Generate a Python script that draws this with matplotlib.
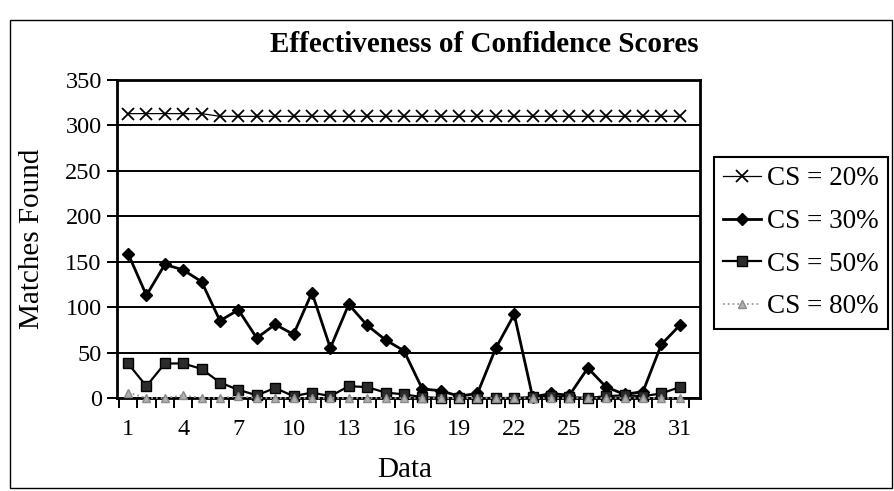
import matplotlib
matplotlib.use("Agg")
import matplotlib.pyplot as plt
from matplotlib.patches import Rectangle

plt.rcParams['font.family'] = ['Liberation Serif', 'DejaVu Serif']

# Data set index on the category axis
data_idx = list(range(1, 32))
x_tick_labels = [1, 4, 7, 10, 13, 16, 19, 22, 25, 28, 31]
y_ticks = [0, 50, 100, 150, 200, 250, 300, 350]

# Matches found for each confidence-score threshold
cs20 = [313, 313, 313, 313, 313, 310, 310, 310, 310, 310,
        310, 310, 310, 310, 310, 310, 310, 310, 310, 310,
        310, 310, 310, 310, 310, 310, 310, 310, 310, 310, 310]
cs30 = [159, 113, 147, 141, 128, 85, 97, 66, 81, 70,
        116, 55, 103, 80, 64, 52, 10, 8, 2, 5,
        55, 92, 1, 5, 3, 33, 12, 4, 7, 59, 80]
cs50 = [38, 13, 38, 38, 32, 17, 9, 3, 11, 2,
        6, 2, 13, 12, 6, 4, 1, 0, 0, 0,
        0, 0, 1, 2, 1, 0, 2, 3, 2, 5, 12]
cs80 = [6, 0, 0, 3, 0, 0, 2, 0, 0, 0,
        0, 0, 0, 0, 0, 0, 0, 0, 0, 0,
        0, 0, 0, 0, 0, 0, 0, 0, 0, 0, 0]
series_names = ["CS = 20%", "CS = 30%", "CS = 50%", "CS = 80%"]

W, H = 895, 491
fig = plt.figure(figsize=(W / 100, H / 100), dpi=100)
fig.patch.set_facecolor('white')

# outer chart frame
fig.add_artist(Rectangle((10 / W, 1 - 488 / H), (892 - 10) / W, (488 - 20) / H,
                         transform=fig.transFigure, fill=False, ec='black', lw=1.0))

ax = fig.add_axes([117 / W, 1 - 398 / H, (700 - 117) / W, (398 - 80) / H])

ax.plot(data_idx, cs20, color='black', lw=0.9, marker='x', ms=8, mew=1.3,
        label=series_names[0], clip_on=False, zorder=4)
ax.plot(data_idx, cs30, color='black', lw=2.0, marker='D', ms=6.5,
        label=series_names[1], clip_on=False, zorder=5)
ax.plot(data_idx, cs50, color='black', lw=1.6, marker='s', ms=6.5, mfc='#2b2b2b',
        mec='black', label=series_names[2], clip_on=False, zorder=5)
ax.plot(data_idx, cs80, color='#9a9a9a', lw=1.3, ls=':', marker='^', ms=6,
        mfc='#b0b0b0', mec='#8a8a8a', label=series_names[3], clip_on=False, zorder=6)

ax.set_ylim(0, 350)
ax.set_xlim(0.4, 32.1)
ax.set_yticks(y_ticks)
ax.set_xticks(x_tick_labels)
ax.set_xticks([i + 0.5 for i in range(0, 32)], minor=True)
ax.yaxis.grid(True, color='black', lw=1.4, zorder=1)
ax.set_axisbelow(True)

for s in ax.spines.values():
    s.set_linewidth(2.0)
    s.set_color('black')

ax.tick_params(axis='y', direction='out', length=7, width=1.4, labelsize=17.5, pad=4)
ax.tick_params(axis='x', which='major', length=0, labelsize=17.5, pad=15)
ax.tick_params(axis='x', which='minor', direction='out', length=7, width=1.4)

fig.text(484 / W, 1 - 45 / H, "Effectiveness of Confidence Scores",
         fontsize=21, fontweight='bold', ha='center', va='center')
fig.text(32 / W, 1 - 239 / H, "Matches Found", fontsize=21, rotation=90,
         ha='center', va='center')
fig.text(405 / W, 1 - 470 / H, "Data", fontsize=21, ha='center', va='center')

leg = fig.legend(loc='upper right', bbox_to_anchor=(888 / W, 1 - 157 / H),
                 fontsize=19.5, frameon=True, fancybox=False, framealpha=1,
                 edgecolor='black', handlelength=1.4, handletextpad=0.2,
                 borderpad=0.35, labelspacing=0.65, borderaxespad=0)
leg.get_frame().set_linewidth(1.5)

fig.savefig('out.png', dpi=100)
